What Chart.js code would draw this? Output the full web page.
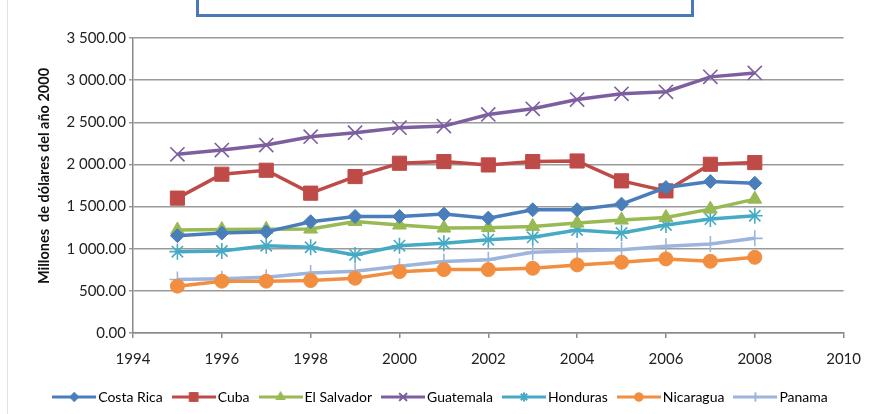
<!DOCTYPE html>
<html>
<head>
<meta charset="utf-8">
<script src="https://cdn.jsdelivr.net/npm/chart.js@4.4.1/dist/chart.umd.min.js"></script>
<style>
  body { margin: 0; background: #fff; }
  #wrap { position: relative; width: 873px; height: 414px; overflow: hidden; }
  #frame { position: absolute; left: 196px; top: -20px; width: 492px; height: 31px; border: 3px solid #4A78B8; }
  #edge { position: absolute; left: 7px; top: 0; width: 1px; height: 414px; background: #e2e2e2; }
</style>
</head>
<body>
<div id="wrap">
  <div id="edge"></div>
  <div id="frame"></div>
  <canvas id="myChart"></canvas>
</div>
<script>
// PIB por pais, millones de dolares del año 2000
const years = [1995, 1996, 1997, 1998, 1999, 2000, 2001, 2002, 2003, 2004, 2005, 2006, 2007, 2008];
const costaRica  = [1155, 1185, 1200, 1320, 1383, 1383, 1411, 1363, 1462, 1462, 1529, 1726, 1797, 1777];
const cuba       = [1600, 1884, 1931, 1659, 1856, 2014, 2034, 1994, 2034, 2041, 1805, 1686, 2002, 2022];
const elSalvador = [1222, 1228, 1232, 1233, 1324, 1281, 1245, 1250, 1265, 1304, 1340, 1371, 1470, 1588];
const guatemala  = [2120, 2170, 2230, 2329, 2377, 2436, 2455, 2593, 2660, 2770, 2838, 2862, 3039, 3086];
const honduras   = [965, 973, 1036, 1017, 926, 1036, 1064, 1107, 1135, 1222, 1186, 1281, 1352, 1391];
const nicaragua  = [556, 615, 615, 622, 650, 728, 752, 752, 768, 808, 840, 879, 851, 898];
const panama     = [634, 645, 662, 713, 733, 792, 847, 870, 958, 977, 988, 1029, 1056, 1123];

const names = ["Costa Rica", "Cuba", "El Salvador", "Guatemala", "Honduras", "Nicaragua", "Panama"];
const seriesData = [costaRica, cuba, elSalvador, guatemala, honduras, nicaragua, panama];
const colors = ["#4A7EBB", "#BE4B48", "#98B954", "#7D5FA0", "#46AAC5", "#F28E3F", "#9DB4DC"];
const markers = ["rectRot", "rect", "triangle", "crossRot", "star", "circle", "cross"];
const radii = [7, 10, 8, 10, 8, 7, 8];
const yTicks = [0, 500, 1000, 1500, 2000, 2500, 3000, 3500];
const yTitleText = "Millones  de dólares del año 2000";

const font = "Lato";

function fmt(v) {
    let s = v.toFixed(2);
    let parts = s.split(".");
    let ent = parts[0].replace(/\B(?=(\d{3})+(?!\d))/g, " ");
    return ent + "." + parts[1];
}

// little line + marker image for the legend
function legendIcon(color, style, r) {
    let c = document.createElement("canvas");
    c.width = 44;
    c.height = 14;
    let ctx = c.getContext("2d");
    ctx.strokeStyle = color;
    ctx.lineWidth = 3;
    ctx.beginPath();
    ctx.moveTo(0, 7);
    ctx.lineTo(44, 7);
    ctx.stroke();
    ctx.fillStyle = color;
    ctx.lineWidth = 1.5;
    Chart.helpers.drawPoint(ctx, {pointStyle: style, radius: r * 0.55, rotation: 0, borderWidth: 1.5}, 22, 7);
    ctx.fill();
    ctx.stroke();
    return c;
}

// vertical axis title, drawn by hand so it can sit left of the scale box
const yTitle = {
    id: "yTitle",
    afterDraw(chart) {
        let ctx = chart.ctx;
        ctx.save();
        ctx.translate(44, 176);
        ctx.rotate(-Math.PI / 2);
        ctx.textAlign = "center";
        ctx.textBaseline = "middle";
        ctx.fillStyle = "#111";
        ctx.font = "bold 14.5px " + font;
        ctx.fillText(yTitleText, 0, 0);
        ctx.restore();
    }
};

const datasets = names.map((n, i) => {
    let line = (markers[i] === "crossRot" || markers[i] === "star" || markers[i] === "cross");
    return {
        label: n,
        data: years.map((y, k) => ({x: y, y: seriesData[i][k]})),
        borderColor: colors[i],
        backgroundColor: colors[i],
        borderWidth: 3.5,
        pointStyle: markers[i],
        pointRadius: radii[i],
        pointHoverRadius: radii[i],
        pointBorderWidth: line ? 1.6 : 1,
        pointBorderColor: colors[i],
        pointBackgroundColor: colors[i],
        tension: 0
    };
});

const icons = names.map((n, i) => legendIcon(colors[i], markers[i], radii[i]));

const config = {
    type: "line",
    data: {datasets: datasets},
    plugins: [yTitle],
    options: {
        responsive: true,
        maintainAspectRatio: false,
        animation: false,
        layout: {padding: {top: 38, right: 28, left: 40, bottom: 0}},
        plugins: {
            tooltip: {enabled: false},
            legend: {
                position: "bottom",
                labels: {
                    usePointStyle: true,
                    pointStyleWidth: 34,
                    padding: 14,
                    color: "#222",
                    font: {family: font, size: 14},
                    generateLabels: (chart) => names.map((n, i) => ({
                        text: n,
                        pointStyle: icons[i],
                        fillStyle: colors[i],
                        strokeStyle: colors[i],
                        lineWidth: 0,
                        datasetIndex: i,
                        hidden: false
                    }))
                }
            }
        },
        scales: {
            x: {
                type: "linear",
                min: 1994,
                max: 2010,
                afterFit: (s) => { s.height = 43; },
                ticks: {
                    stepSize: 2,
                    padding: 12,
                    color: "#222",
                    font: {family: font, size: 15},
                    callback: (v) => String(v)
                },
                grid: {drawOnChartArea: false, drawTicks: true, tickLength: 5, color: "#8a8a8a", lineWidth: 1.5},
                border: {color: "#8a8a8a", width: 1.5}
            },
            y: {
                min: 0,
                max: 3500,
                afterFit: (s) => { s.width = 93; },
                afterBuildTicks: (s) => { s.ticks = yTicks.map(v => ({value: v})); },
                ticks: {
                    padding: 3,
                    color: "#222",
                    font: {family: font, size: 15},
                    callback: (v) => fmt(v)
                },
                grid: {color: "#9a9a9a", lineWidth: 1.5, tickLength: 4},
                border: {color: "#8a8a8a", width: 1.5}
            }
        }
    }
};

const myChart = new Chart(document.getElementById("myChart"), config);
</script>
</body>
</html>
